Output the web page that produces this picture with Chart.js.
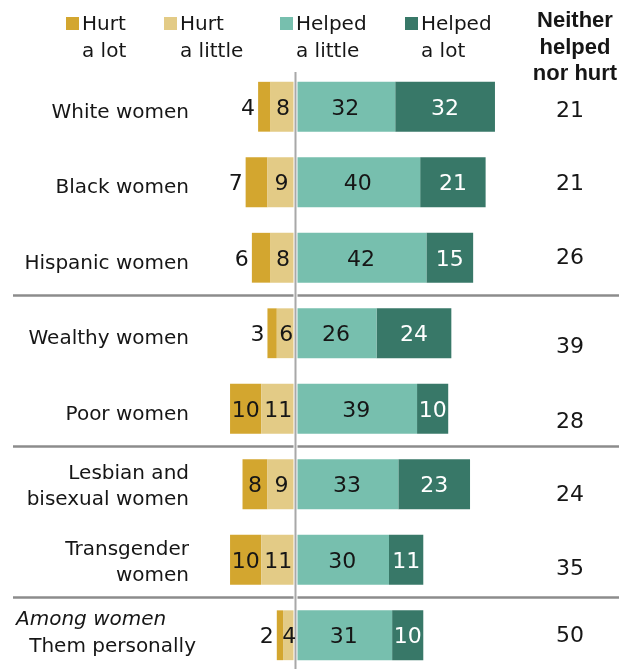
<!DOCTYPE html>
<html>
<head>
<meta charset="utf-8">
<script src="https://cdn.jsdelivr.net/npm/chart.js@4.4.0/dist/chart.umd.min.js"></script>
<style>
    html, body { margin: 0; padding: 0; background: #fff; overflow: hidden; }
    #wrap { position: relative; width: 623px; height: 680px; }
</style>
</head>
<body>
<div id="wrap"><canvas id="chart"></canvas></div>
<script>
// Dados
const categories = [
    ['White women'], ['Black women'], ['Hispanic women'], ['Wealthy women'],
    ['Poor women'], ['Lesbian and', 'bisexual women'], ['Transgender', 'women'], ['Them personally']
];
const hurtLot = [4, 7, 6, 3, 10, 8, 10, 2];
const hurtLittle = [8, 9, 8, 6, 11, 9, 11, 4];
const helpedLittle = [32, 40, 42, 26, 39, 33, 30, 31];
const helpedLot = [32, 21, 15, 24, 10, 23, 11, 10];
const neither = [21, 21, 26, 39, 28, 24, 35, 50];
const groupEnds = [2, 4, 6];

const colors = {
    hurtLot: '#D3A62F',
    hurtLittle: '#E3CB86',
    helpedLittle: '#77BFAE',
    helpedLot: '#387868',
    ink: '#161616',
    rule: '#8c8c8c',
    zero: '#a8a8a8'
};
const FONT = "'DejaVu Sans', sans-serif";

// legenda: [texto, cor, x do quadrado]
const legendItems = [
    [['Hurt', 'a lot'], colors.hurtLot, 66],
    [['Hurt', 'a little'], colors.hurtLittle, 164],
    [['Helped', 'a little'], colors.helpedLittle, 280],
    [['Helped', 'a lot'], colors.helpedLot, 405]
];

// deslocamento vertical dos números da coluna da direita (como no original)
const neitherShift = [2, 0, -2, 12, 11, 9, 7, -1];

const annotations = {
    id: 'annotations',
    afterDatasetsDraw(chart) {
        const ctx = chart.ctx;
        const x = chart.scales.x;
        const y = chart.scales.y;
        ctx.save();

        // linhas separadoras dos grupos
        ctx.strokeStyle = colors.rule;
        ctx.lineWidth = 2.5;
        groupEnds.forEach(i => {
            const yy = (y.getPixelForValue(i) + y.getPixelForValue(i + 1)) / 2;
            ctx.beginPath();
            ctx.moveTo(13, yy);
            ctx.lineTo(619, yy);
            ctx.stroke();
        });

        // linha do zero
        const x0 = x.getPixelForValue(0);
        ctx.strokeStyle = '#fff';
        ctx.lineWidth = 4;
        ctx.beginPath();
        ctx.moveTo(x0, 72);
        ctx.lineTo(x0, chart.height);
        ctx.stroke();
        ctx.strokeStyle = colors.zero;
        ctx.lineWidth = 2;
        ctx.stroke();

        // valores dentro das barras
        ctx.font = '22px ' + FONT;
        ctx.textBaseline = 'alphabetic';
        chart.data.datasets.forEach((ds, di) => {
            const meta = chart.getDatasetMeta(di);
            meta.data.forEach((bar, i) => {
                const v = Math.abs(ds.data[i]);
                const left = Math.min(bar.x, bar.base);
                const right = Math.max(bar.x, bar.base);
                ctx.fillStyle = ds.key === 'helpedLot' ? '#fff' : colors.ink;
                if (ds.key === 'hurtLot' && v < 8) {
                    ctx.fillStyle = colors.ink;
                    ctx.textAlign = 'right';
                    ctx.fillText(v, left - 3, bar.y + 8);
                } else {
                    ctx.textAlign = 'center';
                    ctx.fillText(v, (left + right) / 2, bar.y + 8);
                }
            });
        });

        // coluna "Neither"
        ctx.fillStyle = colors.ink;
        ctx.textAlign = 'center';
        neither.forEach((v, i) => {
            ctx.fillText(v, 570, y.getPixelForValue(i) + 8 + neitherShift[i]);
        });

        // rótulos das categorias
        ctx.font = '20px ' + FONT;
        ctx.textAlign = 'right';
        categories.forEach((lines, i) => {
            const cy = y.getPixelForValue(i);
            if (i === categories.length - 1) {
                ctx.fillText(lines[0], 196, cy + 17);
                ctx.textAlign = 'left';
                ctx.font = 'italic 20px ' + FONT;
                ctx.fillText('Among women', 16, cy - 10);
                ctx.font = '20px ' + FONT;
                ctx.textAlign = 'right';
            } else if (lines.length === 1) {
                ctx.fillText(lines[0], 189, cy + 11);
            } else {
                ctx.fillText(lines[0], 189, cy - 5);
                ctx.fillText(lines[1], 189, cy + 21);
            }
        });

        // legenda
        ctx.textAlign = 'left';
        legendItems.forEach(([text, color, lx]) => {
            ctx.fillStyle = color;
            ctx.fillRect(lx, 17, 13, 13);
            ctx.fillStyle = colors.ink;
            ctx.fillText(text[0], lx + 16, 30);
            ctx.fillText(text[1], lx + 16, 57);
        });

        // cabeçalho da coluna
        ctx.font = "bold 22px 'Liberation Sans', Arial, sans-serif";
        ctx.textAlign = 'center';
        ['Neither', 'helped', 'nor hurt'].forEach((t, k) => {
            ctx.fillText(t, 575, 27 + k * 26.7);
        });

        ctx.restore();
    }
};

new Chart(document.getElementById('chart'), {
    type: 'bar',
    data: {
        labels: categories,
        datasets: [
            { key: 'hurtLittle', label: 'Hurt a little', data: hurtLittle.map(v => -v), backgroundColor: colors.hurtLittle },
            { key: 'hurtLot', label: 'Hurt a lot', data: hurtLot.map(v => -v), backgroundColor: colors.hurtLot },
            { key: 'helpedLittle', label: 'Helped a little', data: helpedLittle, backgroundColor: colors.helpedLittle },
            { key: 'helpedLot', label: 'Helped a lot', data: helpedLot, backgroundColor: colors.helpedLot }
        ]
    },
    options: {
        indexAxis: 'y',
        responsive: true,
        maintainAspectRatio: false,
        animation: false,
        layout: { padding: { top: 69, bottom: 7, left: 202, right: 47 } },
        datasets: { bar: { barPercentage: 0.66, categoryPercentage: 1, borderWidth: 0 } },
        scales: {
            x: { type: 'linear', stacked: true, min: -30, max: 90, display: false },
            y: { stacked: true, display: false }
        },
        plugins: {
            legend: { display: false },
            tooltip: { enabled: false }
        }
    },
    plugins: [annotations]
});
</script>
</body>
</html>
